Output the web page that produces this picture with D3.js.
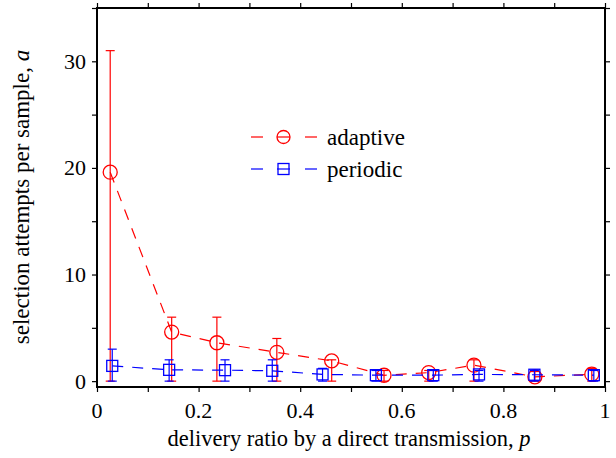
<!DOCTYPE html>
<html>
<head>
<meta charset="utf-8">
<script src="https://cdn.jsdelivr.net/npm/d3@7"></script>
<style>
  body { margin: 0; background: #fff; }
</style>
</head>
<body>
<div id="chart"></div>
<script>
// data
var pAdaptive = [0.026, 0.147, 0.236, 0.354, 0.462, 0.565, 0.653, 0.742, 0.862, 0.974];
var aAdaptive = [19.6, 4.6, 3.6, 2.7, 1.9, 0.55, 0.8, 1.5, 0.4, 0.65];
var hiAdaptive = [31, 6, 6, 4, 2, 1.0, 1.0, 2, 0.9, 1.2];
var loAdaptive = [0, 0, 0, 0, 0, 0, 0, 0, 0, 0];

var pPeriodic = [0.03, 0.142, 0.252, 0.345, 0.444, 0.549, 0.662, 0.752, 0.861, 0.978];
var aPeriodic = [1.43, 1.06, 1.03, 0.97, 0.63, 0.56, 0.56, 0.63, 0.6, 0.56];
var hiPeriodic = [3, 2, 2, 2, 1.2, 1.0, 1.0, 1.0, 1.0, 1.0];
var loPeriodic = [0, 0, 0, 0, 0, 0, 0, 0, 0, 0];

var xTicks = [0, 0.2, 0.4, 0.6, 0.8, 1];
var yTicks = [0, 10, 20, 30];

const width = 616, height = 458;
var margin = {top: 8, right: 11, bottom: 71, left: 97};

var svg = d3.select("#chart").append("svg")
    .attr("width", width)
    .attr("height", height);

// serif text, same as the LaTeX-like figure
function serifText(sel, size) {
    return sel.style("font-family", "Liberation Serif").style("font-size", size + "px").attr("fill", "#000");
}

var xScale = d3.scaleLinear()
    .domain([0, 1])
    .range([margin.left, width - margin.right]);

var yScale = d3.scaleLinear()
    .domain([-0.55, 35])
    .range([height - margin.bottom, margin.top]);

// build series from the arrays
function makeSeries(p, a, lo, hi) {
    return p.map((d, i) => ({x: d, y: a[i], lo: lo[i], hi: hi[i]}));
}
var series = [
    {name: "adaptive", color: "#ff0000", marker: "circle", data: makeSeries(pAdaptive, aAdaptive, loAdaptive, hiAdaptive)},
    {name: "periodic", color: "#0000ff", marker: "square", data: makeSeries(pPeriodic, aPeriodic, loPeriodic, hiPeriodic)}
];

var x0 = yScale(-0.55), y1 = yScale(35);

// tick labels first
svg.append("g").selectAll("text")
    .data(xTicks)
    .enter().append("text")
    .attr("x", d => xScale(d))
    .attr("y", x0 + 31)
    .attr("text-anchor", "middle")
    .call(serifText, 22)
    .text(d => d);
svg.append("g").selectAll("text")
    .data(yTicks)
    .enter().append("text")
    .attr("x", margin.left - 11)
    .attr("y", d => yScale(d) + 7.5)
    .attr("text-anchor", "end")
    .call(serifText, 22)
    .text(d => d);

// axis titles
var xt = svg.append("text")
    .attr("x", (margin.left + width - margin.right) / 2 - 2)
    .attr("y", 446)
    .attr("text-anchor", "middle")
    .call(serifText, 22.5);
xt.append("tspan").text("delivery ratio by a direct transmission, ");
xt.append("tspan").style("font-style", "italic").text("p");

var yt = svg.append("text")
    .attr("transform", "rotate(-90)")
    .attr("x", -197)
    .attr("y", 29)
    .attr("text-anchor", "middle")
    .call(serifText, 23);
yt.append("tspan").text("selection attempts per sample, ");
yt.append("tspan").style("font-style", "italic").text("a");

// axes with outward ticks on all four sides, labels are drawn above
function tickAxis(g) {
    g.attr("font-family", null).attr("font-size", null);
    g.select(".domain").remove();
    g.selectAll(".tick text").remove();
}
svg.append("g")
    .attr("transform", "translate(0," + x0 + ")")
    .call(d3.axisBottom(xScale).tickValues(d3.range(0, 1.01, 0.1)).tickSize(5))
    .call(tickAxis);
svg.append("g")
    .attr("transform", "translate(0," + y1 + ")")
    .call(d3.axisTop(xScale).tickValues(d3.range(0, 1.01, 0.1)).tickSize(5))
    .call(tickAxis);
svg.append("g")
    .attr("transform", "translate(" + margin.left + ",0)")
    .call(d3.axisLeft(yScale).tickValues(d3.range(0, 35.1, 5)).tickSize(5))
    .call(tickAxis);
svg.append("g")
    .attr("transform", "translate(" + (width - margin.right) + ",0)")
    .call(d3.axisRight(yScale).tickValues(d3.range(0, 35.1, 5)).tickSize(5))
    .call(tickAxis);
svg.selectAll(".tick line").attr("stroke", "#000").attr("stroke-width", 1.2);

// frame
svg.append("rect")
    .attr("x", margin.left)
    .attr("y", y1)
    .attr("width", xScale(1) - margin.left)
    .attr("height", x0 - y1)
    .attr("fill", "none")
    .attr("stroke", "#000")
    .attr("stroke-width", 2);

var line = d3.line().x(d => xScale(d.x)).y(d => yScale(d.y));

function drawMarker(g, type, color, cx, cy) {
    if (type === "circle") {
        g.append("circle").attr("cx", cx).attr("cy", cy).attr("r", 7)
            .attr("fill", "none").attr("stroke", color).attr("stroke-width", 1.3);
    } else {
        g.append("rect").attr("x", cx - 5.5).attr("y", cy - 5.5).attr("width", 11).attr("height", 11)
            .attr("fill", "none").attr("stroke", color).attr("stroke-width", 1.3);
    }
}

series.forEach(s => {
    var g = svg.append("g");
    g.append("path")
        .datum(s.data)
        .attr("d", line)
        .attr("fill", "none")
        .attr("stroke", s.color)
        .attr("stroke-width", 1.2)
        .attr("stroke-dasharray", "11,9");

    // error bars
    var eb = g.selectAll(".err").data(s.data).enter().append("g");
    eb.append("line")
        .attr("x1", d => xScale(d.x)).attr("x2", d => xScale(d.x))
        .attr("y1", d => yScale(d.lo)).attr("y2", d => yScale(d.hi))
        .attr("stroke", s.color).attr("stroke-width", 1.2);
    eb.append("line")
        .attr("x1", d => xScale(d.x) - 4.5).attr("x2", d => xScale(d.x) + 4.5)
        .attr("y1", d => yScale(d.hi)).attr("y2", d => yScale(d.hi))
        .attr("stroke", s.color).attr("stroke-width", 1.2);
    eb.append("line")
        .attr("x1", d => xScale(d.x) - 4.5).attr("x2", d => xScale(d.x) + 4.5)
        .attr("y1", d => yScale(d.lo)).attr("y2", d => yScale(d.lo))
        .attr("stroke", s.color).attr("stroke-width", 1.2);

    s.data.forEach(d => drawMarker(g, s.marker, s.color, xScale(d.x), yScale(d.y)));
});

// legend
var legendY = [137, 169];
series.forEach((s, i) => {
    var lg = svg.append("g");
    var ly = legendY[i];
    lg.append("line").attr("x1", 251).attr("x2", 263).attr("y1", ly).attr("y2", ly)
        .attr("stroke", s.color).attr("stroke-width", 1.2);
    lg.append("line").attr("x1", 305).attr("x2", 317).attr("y1", ly).attr("y2", ly)
        .attr("stroke", s.color).attr("stroke-width", 1.2);
    lg.append("line").attr("x1", 277).attr("x2", 290).attr("y1", ly).attr("y2", ly)
        .attr("stroke", s.color).attr("stroke-width", 1.2);
    if (s.marker === "circle") {
        lg.append("circle").attr("cx", 283.5).attr("cy", ly).attr("r", 6.5)
            .attr("fill", "none").attr("stroke", s.color).attr("stroke-width", 1.3);
    } else {
        lg.append("rect").attr("x", 278).attr("y", ly - 5.5).attr("width", 11).attr("height", 11)
            .attr("fill", "none").attr("stroke", s.color).attr("stroke-width", 1.3);
    }
    lg.append("text").attr("x", 327).attr("y", ly + 7.5)
        .call(serifText, 23)
        .text(s.name);
});
</script>
</body>
</html>
